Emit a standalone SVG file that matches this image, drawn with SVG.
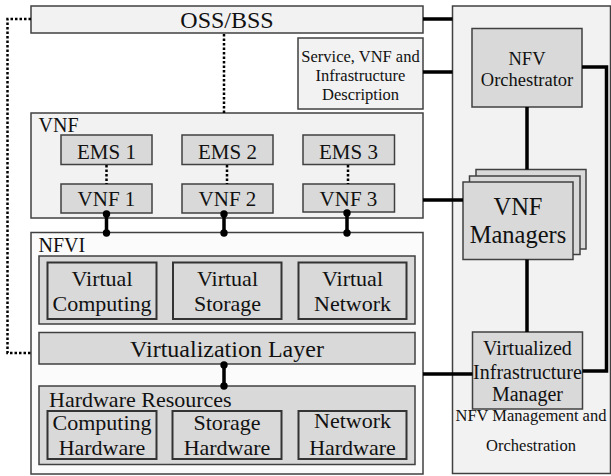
<svg xmlns="http://www.w3.org/2000/svg" width="611" height="476" viewBox="0 0 611 476">
<style>
.outer{fill:#f2f2f2;stroke:#404040;stroke-width:1.5}
.white{fill:#fbfbfb;stroke:#404040;stroke-width:1.5}
.inner{fill:#d9d9d9;stroke:#404040;stroke-width:1.5}
.inner2{fill:#d9d9d9;stroke:#333;stroke-width:2}
text{font-family:"Liberation Serif","Times New Roman",serif;fill:#111}
.c{text-anchor:middle}
.thick{stroke:#000;stroke-width:3.5;fill:none}
.dot{stroke:#000;stroke-width:2.5;fill:none;stroke-dasharray:2.5 2}
.end{fill:#000}
</style>
<rect x="0" y="0" width="611" height="476" fill="#fff"/>
<g id="mano">
<rect class="outer" x="452.5" y="6" width="158" height="467.5"/>
<text class="c" x="531" y="421" font-size="16.5">NFV Management and</text>
<text class="c" x="531" y="451" font-size="16.5">Orchestration</text>
</g>
<g id="oss">
<rect class="outer" x="31" y="6" width="392" height="27"/>
<text class="c" x="227" y="28" font-size="24">OSS/BSS</text>
</g>
<g id="description">
<rect class="outer" x="298" y="38" width="125" height="71"/>
<text class="c" x="360.5" y="62" font-size="16.5">Service, VNF and</text>
<text class="c" x="360.5" y="81" font-size="16.5">Infrastructure</text>
<text class="c" x="360.5" y="100" font-size="16.5">Description</text>
</g>
<g id="orchestrator">
<rect class="inner" x="472" y="28.5" width="110" height="78.5"/>
<text class="c" x="527" y="65" font-size="18.5">NFV</text>
<text class="c" x="527" y="86" font-size="18.5">Orchestrator</text>
</g>
<g id="vnf-layer">
<rect class="outer" x="31" y="113" width="392" height="105"/>
<text x="38.5" y="131.5" font-size="20">VNF</text>
</g>
<g id="ems1"><rect class="inner" x="61" y="135" width="91" height="29.5"/><text class="c" x="106.5" y="159" font-size="21">EMS 1</text></g>
<g id="ems2"><rect class="inner" x="182" y="135" width="91" height="29.5"/><text class="c" x="227.5" y="159" font-size="21">EMS 2</text></g>
<g id="ems3"><rect class="inner" x="303" y="135" width="91.5" height="29.5"/><text class="c" x="348.5" y="159" font-size="21">EMS 3</text></g>
<g id="vnf1"><rect class="inner" x="61" y="184" width="91" height="29"/><text class="c" x="106.5" y="206" font-size="21">VNF 1</text></g>
<g id="vnf2"><rect class="inner" x="182" y="184" width="91" height="29"/><text class="c" x="227.5" y="206" font-size="21">VNF 2</text></g>
<g id="vnf3"><rect class="inner" x="303" y="184" width="91.5" height="28"/><text class="c" x="348.5" y="206" font-size="21">VNF 3</text></g>
<g id="vnf-managers">
<rect class="inner" x="476" y="169.5" width="110" height="79.5"/>
<rect class="inner" x="469.5" y="176" width="110.5" height="78.5"/>
<rect class="inner" x="463" y="182" width="110" height="77.5"/>
<text class="c" x="518" y="215" font-size="24.5">VNF</text>
<text class="c" x="518" y="243" font-size="24.5">Managers</text>
</g>
<g id="vim">
<rect class="inner" x="472.5" y="332" width="110" height="77"/>
<text class="c" x="527.5" y="355" font-size="20">Virtualized</text>
<text class="c" x="527.5" y="379" font-size="20">Infrastructure</text>
<text class="c" x="527.5" y="401" font-size="20">Manager</text>
</g>
<g id="nfvi">
<rect class="white" x="31" y="232.5" width="392" height="241.5"/>
<text x="38.5" y="251.5" font-size="20">NFVI</text>
</g>
<g id="virtual-resources">
<rect class="inner" x="39" y="256" width="376" height="68"/>
</g>
<g id="virtual-computing"><rect class="inner2" x="47.5" y="262.5" width="109" height="56.5"/><text class="c" x="102" y="286" font-size="22">Virtual</text><text class="c" x="102" y="311" font-size="22">Computing</text></g>
<g id="virtual-storage"><rect class="inner2" x="173" y="262.5" width="108.5" height="56.5"/><text class="c" x="227.5" y="286" font-size="22">Virtual</text><text class="c" x="227.5" y="311" font-size="22">Storage</text></g>
<g id="virtual-network"><rect class="inner2" x="298.5" y="262.5" width="108" height="56.5"/><text class="c" x="352.5" y="286" font-size="22">Virtual</text><text class="c" x="352.5" y="311" font-size="22">Network</text></g>
<g id="virtualization-layer">
<rect class="inner" x="39" y="332.5" width="376" height="31.5"/>
<text class="c" x="227" y="357" font-size="24">Virtualization Layer</text>
</g>
<g id="hardware-resources">
<rect class="inner" x="39" y="386" width="376" height="78.5"/>
<text x="49" y="406.5" font-size="22">Hardware Resources</text>
</g>
<g id="computing-hardware"><rect class="inner2" x="47.5" y="411" width="109" height="48"/><text class="c" x="102" y="430" font-size="22">Computing</text><text class="c" x="102" y="455" font-size="22">Hardware</text></g>
<g id="storage-hardware"><rect class="inner2" x="172.5" y="411" width="109" height="48"/><text class="c" x="227" y="430" font-size="22">Storage</text><text class="c" x="227" y="455" font-size="22">Hardware</text></g>
<g id="network-hardware"><rect class="inner2" x="298.5" y="411" width="108" height="48"/><text class="c" x="352.5" y="428" font-size="22">Network</text><text class="c" x="352.5" y="455" font-size="22">Hardware</text></g>
<g id="connectors">
<path class="thick" d="M423 19H452.5M423 72H452.5M423 200H463M423 374H472.5M527 107V169.5M527 259.5V332M582 67H606.5V371H582.5"/>
<path class="thick" d="M106.5 213V233M224 213V233M347 212V233M224 364V386"/>
<circle class="end" cx="106.5" cy="214" r="3.7"/><circle class="end" cx="106.5" cy="233" r="3.7"/>
<circle class="end" cx="224" cy="214" r="3.7"/><circle class="end" cx="224" cy="233" r="3.7"/>
<circle class="end" cx="347" cy="213" r="3.7"/><circle class="end" cx="347" cy="233" r="3.7"/>
<circle class="end" cx="224" cy="365" r="3.7"/><circle class="end" cx="224" cy="386" r="3.7"/>
<path class="dot" d="M31 19H7.5V353H31"/>
<path class="dot" d="M224 34V113"/>
<path class="dot" d="M106.5 165V184M227 165V184M348 165V184"/>
</g>
</svg>
